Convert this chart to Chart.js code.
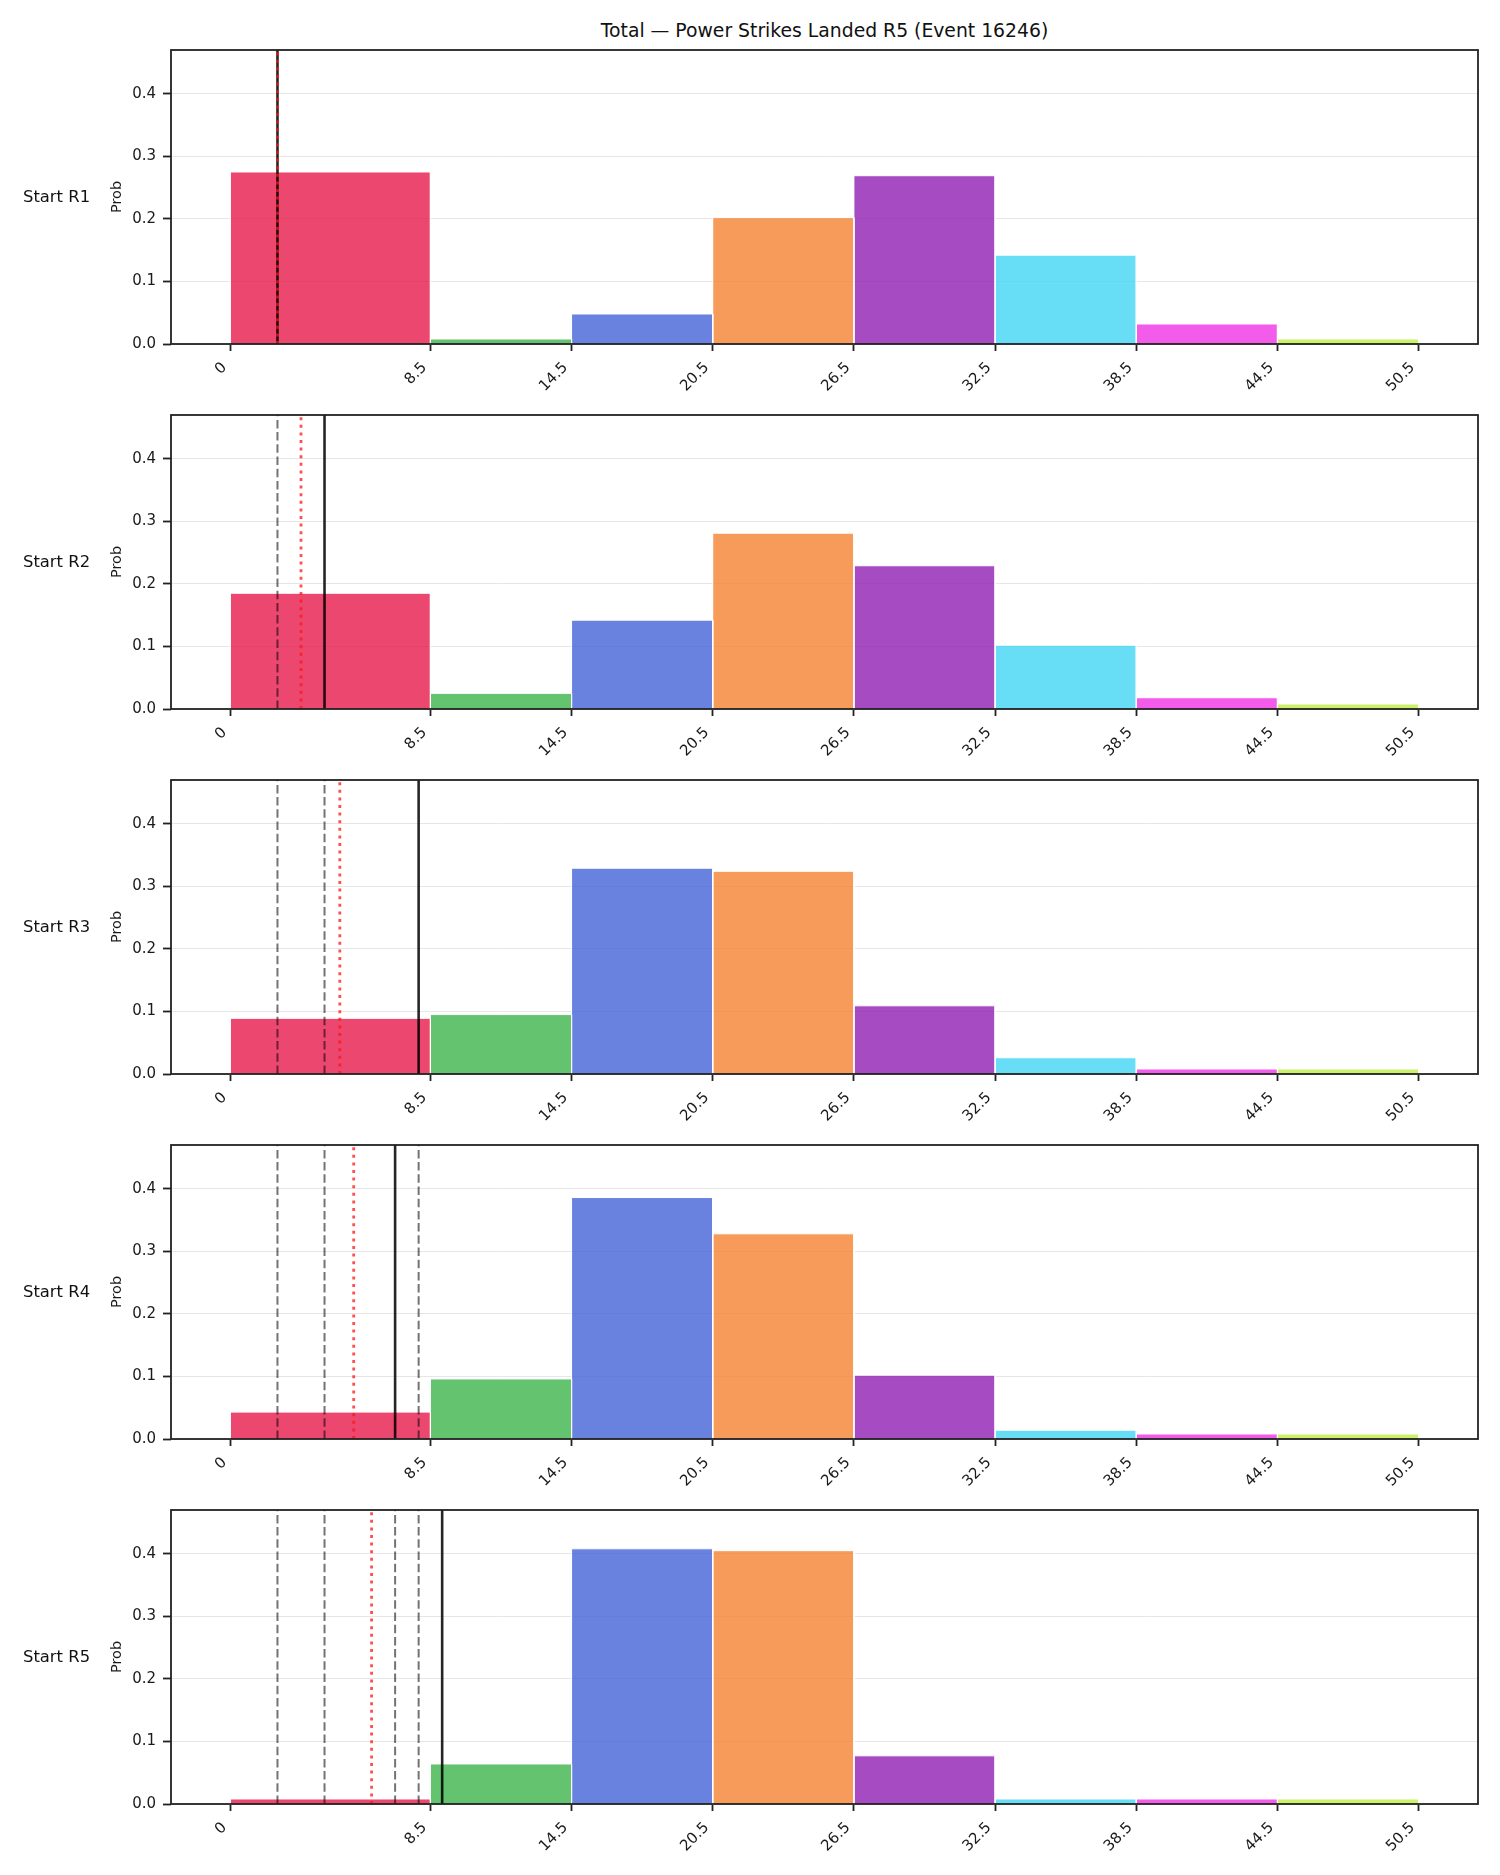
<!DOCTYPE html>
<html lang="en">
<head>
  <meta charset="UTF-8" />
  <title>Total — Power Strikes Landed R5</title>
  <script src="https://cdn.jsdelivr.net/npm/chart.js"></script>
  <style>
    body { margin: 0; background: #fff; font-family: "DejaVu Sans", sans-serif; }
    #wrap { position: relative; width: 1500px; height: 1875px; }
    .panel { position: absolute; left: 0; width: 1500px; height: 410px; }
    .rowlabel { position: absolute; left: 23px; font-size: 16.4px; line-height: 1; color: #111; white-space: nowrap; }
    #title { position: absolute; left: 171px; width: 1307px; top: 22px; text-align: center; font-size: 18.8px; line-height: 1; color: #111; }
  </style>
</head>
<body>
  <div id="wrap">
    <div id="title">Total — Power Strikes Landed R5 (Event 16246)</div>
  </div>

  <script>
    // bins and ticks
    const binEdges = [0, 8.5, 14.5, 20.5, 26.5, 32.5, 38.5, 44.5, 50.5];
    const xTickLabels = ["0", "8.5", "14.5", "20.5", "26.5", "32.5", "38.5", "44.5", "50.5"];
    const yTicks = [0, 0.1, 0.2, 0.3, 0.4];
    const rowLabels = ["Start R1", "Start R2", "Start R3", "Start R4", "Start R5"];

    // probability per bin, one array per starting round
    const probR1 = [0.275, 0.008, 0.048, 0.202, 0.269, 0.142, 0.032, 0.008];
    const probR2 = [0.185, 0.025, 0.142, 0.281, 0.229, 0.102, 0.018, 0.008];
    const probR3 = [0.089, 0.095, 0.329, 0.324, 0.109, 0.026, 0.008, 0.008];
    const probR4 = [0.043, 0.096, 0.386, 0.328, 0.102, 0.014, 0.008, 0.008];
    const probR5 = [0.008, 0.064, 0.408, 0.405, 0.077, 0.008, 0.008, 0.008];
    const probs = [probR1, probR2, probR3, probR4, probR5];

    // reference lines
    const solidLine = [2, 4, 8, 7, 9];
    const redLine = [2, 3, 4.65, 5.24, 6.0];
    const dashedLines = [[], [2], [2, 4], [2, 4, 8], [2, 4, 7, 8]];

    const binColors = [
      "rgba(230,25,75,0.8)", "rgba(60,180,75,0.8)", "rgba(67,99,216,0.8)", "rgba(245,130,49,0.8)",
      "rgba(145,30,180,0.8)", "rgba(66,212,244,0.8)", "rgba(240,50,230,0.8)", "rgba(191,239,69,0.8)"
    ];

    const yMax = 0.47;
    const xMin = -2.525, xMax = 53.025;
    const rowStep = 365;
    const canvasH = 410;
    const leftPad = 108.4;

    Chart.defaults.font.family = "'DejaVu Sans', sans-serif";
    Chart.defaults.color = "#1a1a1a";

    const spines = {
      id: "spines",
      afterDatasetsDraw(chart) {
        const { ctx, chartArea: a } = chart;
        ctx.save();
        ctx.strokeStyle = "#222";
        ctx.lineWidth = 1.8;
        ctx.strokeRect(a.left, a.top, a.right - a.left, a.bottom - a.top);
        ctx.restore();
      }
    };

    function vline(x, color, width, dash, order) {
      return {
        type: "line",
        data: [{ x: x, y: 0 }, { x: x, y: yMax }],
        borderColor: color,
        borderWidth: width,
        borderDash: dash,
        pointRadius: 0,
        fill: false,
        order: order
      };
    }

    function buildDatasets(i) {
      const sets = [];
      probs[i].forEach((p, b) => {
        const x0 = binEdges[b], x1 = binEdges[b + 1];
        sets.push({
          type: "line",
          data: [{ x: x0, y: 0 }, { x: x0, y: p }, { x: x1, y: p }, { x: x1, y: 0 }],
          backgroundColor: binColors[b],
          borderColor: "#ffffff",
          borderWidth: 1,
          fill: "origin",
          pointRadius: 0,
          tension: 0,
          order: 10
        });
      });
      dashedLines[i].forEach(v => sets.push(vline(v, "rgba(0,0,0,0.55)", 2, [8.5, 3.7], 3)));
      sets.push(vline(solidLine[i], "rgba(0,0,0,0.85)", 2.6, [], 2));
      sets.push(vline(redLine[i], "rgba(255,20,20,0.75)", 2.8, [3, 4.6], 1));
      return sets;
    }

    const wrap = document.getElementById("wrap");

    rowLabels.forEach((label, i) => {
      const panel = document.createElement("div");
      panel.className = "panel";
      panel.style.top = (i * rowStep) + "px";
      const canvas = document.createElement("canvas");
      canvas.width = 1500;
      canvas.height = canvasH;
      panel.appendChild(canvas);
      wrap.appendChild(panel);

      const lab = document.createElement("div");
      lab.className = "rowlabel";
      lab.textContent = label;
      lab.style.top = (188.5 + i * rowStep) + "px";
      wrap.appendChild(lab);

      new Chart(canvas.getContext("2d"), {
        type: "line",
        data: { datasets: buildDatasets(i) },
        options: {
          responsive: false,
          animation: false,
          layout: { padding: { top: 50, right: 22, left: leftPad, bottom: 0 } },
          plugins: { legend: { display: false }, tooltip: { enabled: false } },
          scales: {
            x: {
              type: "linear",
              min: xMin,
              max: xMax,
              afterBuildTicks: s => { s.ticks = binEdges.map(v => ({ value: v })); },
              afterFit: s => { s.height = canvasH - 344; },
              ticks: {
                autoSkip: false,
                minRotation: 45,
                maxRotation: 45,
                padding: 8,
                labelOffset: -6,
                font: { size: 15 },
                callback: (v, idx) => xTickLabels[idx]
              },
              grid: { drawOnChartArea: false, tickColor: "#222", tickWidth: 1.8, tickLength: 7 },
              border: { display: false }
            },
            y: {
              min: 0,
              max: yMax,
              afterBuildTicks: s => { s.ticks = yTicks.map(v => ({ value: v })); },
              afterFit: s => { s.width = 171 - leftPad; },
              ticks: {
                padding: 7,
                font: { size: 15 },
                callback: v => v.toFixed(1)
              },
              grid: { color: "#e6e6e6", lineWidth: 1, tickColor: "#222", tickWidth: 1.8, tickLength: 8 },
              border: { display: false },
              title: { display: true, text: "Prob", font: { size: 14.5 }, padding: 0 }
            }
          }
        },
        plugins: [spines]
      });
    });
  </script>
</body>
</html>
